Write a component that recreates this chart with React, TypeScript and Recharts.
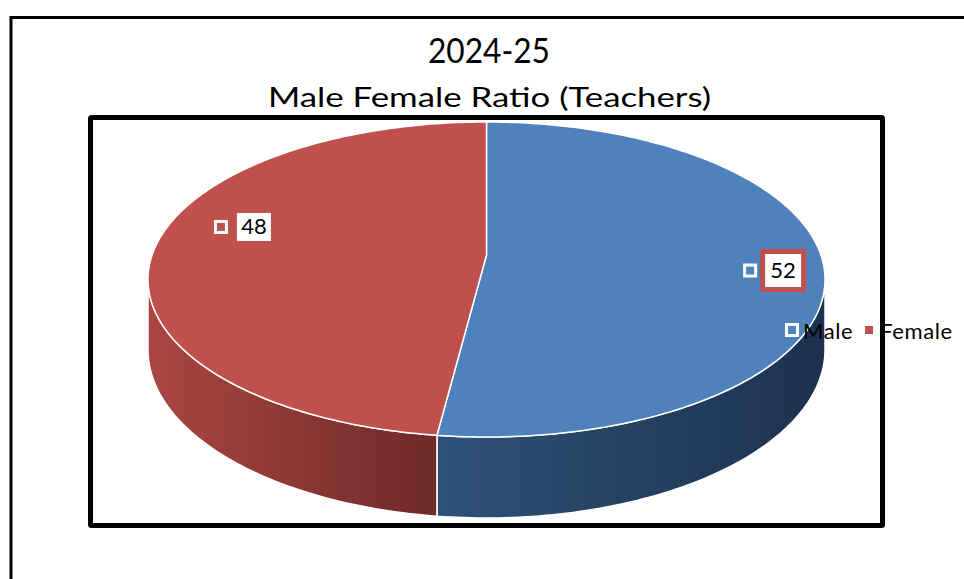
import React from 'react';
import { PieChart, Pie, Legend } from 'recharts';

const CATEGORIES = ['Male', 'Female'];
const VALUES = [52, 48];
const TITLE_LINES = ['2024-25', 'Male Female Ratio (Teachers)'];

const FONT = 'Lato, "Open Sans", sans-serif';
const TOP_COLORS = ['#4F81BD', '#C0504D'];
// side wall gradients (Excel 3D lighting), offsets across the pie's full width
const SIDE_STOPS: [number, string][][] = [
  [[0.42, '#2F5179'], [0.75, '#25405F'], [1, '#1D3150']],
  [[0, '#AA4641'], [0.42, '#6F2A29']],
];
const LABEL_RADIUS = [0.879, 0.74];
const LABEL_SHIFT = [-2.9, -11.1];
const LABEL_BOX = [
  { w: 41, h: 38, stroke: '#C0504D' },
  { w: 34, h: 28, stroke: 'none' },
];

const W = 964;
const H = 579;
const CX = 486.5;
const CY = 255; // projected centre of the pie disc
const R = 334.4;
const K = 0.1555; // perspective strength
const FLAT = 0.4596; // vertical squash of the disc
const DEPTH = 68.4;
const SIL = (Math.asin(K) * 180) / Math.PI;

const data = CATEGORIES.map((name, i) => ({ name, value: VALUES[i] }));

// perspective projection of a point on the disc (recharts angle convention)
function proj(cx: number, cy: number, r: number, f: number, deg: number, down = 0) {
  const a = (deg * Math.PI) / 180;
  const u = f * Math.cos(a);
  const v = -f * Math.sin(a);
  const w = 1 - K * v;
  return [cx + (r * u) / w, cy + (r * FLAT * v + down * DEPTH) / w];
}

function curve(cx: number, cy: number, r: number, from: number, to: number, down = 0) {
  const n = Math.max(2, Math.ceil(Math.abs(to - from)));
  const pts: string[] = [];
  for (let j = 0; j <= n; j++) {
    const [x, y] = proj(cx, cy, r, 1, from + ((to - from) * j) / n, down);
    pts.push(`${x.toFixed(2)},${y.toFixed(2)}`);
  }
  return pts;
}

// parts of the slice that face the viewer
function frontRanges(s: number, e: number) {
  const hiA = Math.max(s, e);
  const loA = Math.min(s, e);
  const out: [number, number][] = [];
  for (const k of [-720, -360, 0, 360]) {
    const lo = Math.max(loA, -180 + SIL + k);
    const hi = Math.min(hiA, -SIL + k);
    if (hi > lo) out.push([hi, lo]);
  }
  return out;
}

function Slice3D(props: any) {
  const { cx, cy, outerRadius: r, startAngle: s, endAngle: e } = props;
  const name = props.name ?? props.payload?.name;
  const i = CATEGORIES.indexOf(name);
  const gid = `side-${i}`;
  const span = r / Math.sqrt(1 - K * K);

  const sides = frontRanges(s, e).map(([hi, lo], k) => {
    const topPts = curve(cx, cy, r, hi, lo);
    const botPts = curve(cx, cy, r, lo, hi, 1);
    const d = `M${topPts.join(' L')} L${botPts.join(' L')} Z`;
    return <path key={k} d={d} fill={`url(#${gid})`} stroke="#fff" strokeWidth={1.5} strokeLinejoin="round" />;
  });

  const top = `M${cx},${cy} L${curve(cx, cy, r, s, e).join(' L')} Z`;

  return (
    <g>
      <defs>
        <linearGradient id={gid} gradientUnits="userSpaceOnUse" x1={cx - span} y1={0} x2={cx + span} y2={0}>
          {SIDE_STOPS[i].map(([o, c]) => (
            <stop key={o} offset={o} stopColor={c} />
          ))}
        </linearGradient>
      </defs>
      {sides}
      <path d={top} fill={TOP_COLORS[i]} stroke="#fff" strokeWidth={1.5} strokeLinejoin="round" />
    </g>
  );
}

function renderLabel(props: any) {
  const { cx, cy, midAngle, outerRadius, name, value } = props;
  const i = CATEGORIES.indexOf(name);
  const [x, y] = proj(cx, cy, outerRadius, LABEL_RADIUS[i], midAngle + LABEL_SHIFT[i]);
  const box = LABEL_BOX[i];
  const mx = x - 33;
  return (
    <g>
      <rect x={mx - 7} y={y - 7} width={14} height={14} fill="#fff" />
      <rect x={mx - 4} y={y - 4} width={8} height={8} fill={TOP_COLORS[i]} />
      <rect
        x={x - box.w / 2}
        y={y - box.h / 2}
        width={box.w}
        height={box.h}
        fill="#fff"
        stroke={box.stroke}
        strokeWidth={5}
      />
      <text x={x} y={y + 7.5} textAnchor="middle" fontSize={22} fontFamily={FONT} fill="#000">
        {value}
      </text>
    </g>
  );
}

function LegendContent() {
  return (
    <div
      style={{
        display: 'flex',
        alignItems: 'center',
        height: 24,
        fontFamily: FONT,
        fontSize: 22,
        letterSpacing: 0.6,
        color: '#000',
        whiteSpace: 'nowrap',
      }}
    >
      {CATEGORIES.map((c, i) => (
        <span key={c} style={{ display: 'flex', alignItems: 'center', marginRight: i === 0 ? 9 : 0 }}>
          <span
            style={{
              width: 8,
              height: 8,
              background: TOP_COLORS[i],
              border: '3px solid #fff',
              marginRight: 4,
            }}
          />
          <span>{c}</span>
        </span>
      ))}
    </div>
  );
}

export default function App() {
  return (
    <div style={{ position: 'absolute', left: 0, top: 0, width: W, height: H, background: '#fff' }}>
      <svg width={W} height={H} style={{ position: 'absolute', left: 0, top: 0 }}>
        <path d={`M11,${H} V17.5 H${W}`} stroke="#000" strokeWidth={3} fill="none" />
        <rect x={90.5} y={117.5} width={792} height={408} rx={1} fill="none" stroke="#000" strokeWidth={5} />
        <text x={489} y={63} textAnchor="middle" fontSize={35} fontFamily={FONT} textLength={122} lengthAdjust="spacingAndGlyphs">
          {TITLE_LINES[0]}
        </text>
        <text x={489.5} y={107} textAnchor="middle" fontSize={27} fontFamily={FONT} textLength={443} lengthAdjust="spacingAndGlyphs">
          {TITLE_LINES[1]}
        </text>
      </svg>
      <div style={{ position: 'absolute', left: 0, top: 0 }}>
        <PieChart width={W} height={H} margin={{ top: 0, right: 0, bottom: 0, left: 0 }}>
          <Pie
            data={data}
            dataKey="value"
            nameKey="name"
            cx={CX}
            cy={CY}
            outerRadius={R}
            startAngle={90}
            endAngle={-270}
            stroke="none"
            shape={Slice3D}
            label={renderLabel}
            labelLine={false}
            isAnimationActive={false}
          />
          <Legend
            layout="vertical"
            align="right"
            verticalAlign="top"
            content={<LegendContent />}
            wrapperStyle={{ left: 785, top: 318, width: 180 }}
          />
        </PieChart>
      </div>
    </div>
  );
}
